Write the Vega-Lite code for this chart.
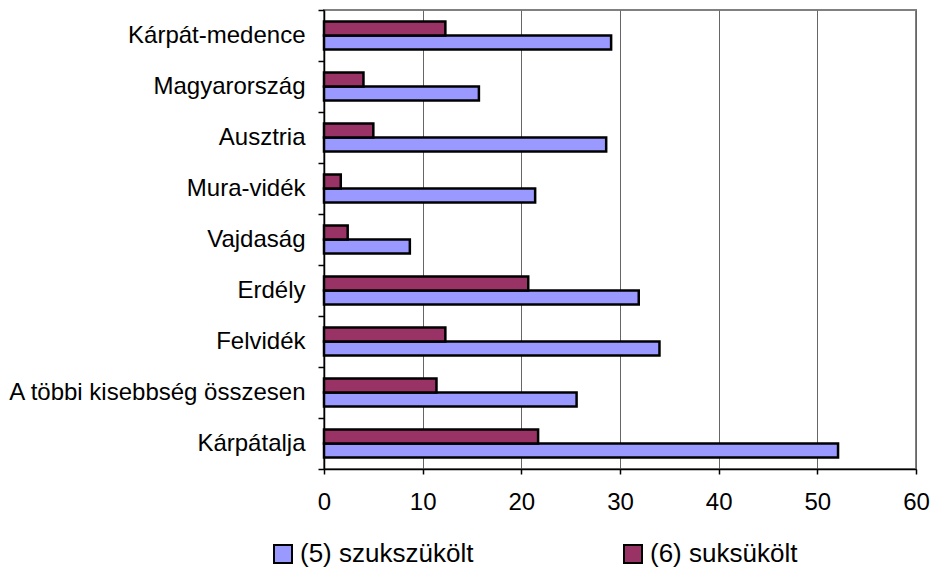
{
  "$schema": "https://vega.github.io/schema/vega-lite/v6.json",
  "width": 592,
  "height": 459,
  "autosize": {"type": "none"},
  "padding": {"left": 324, "top": 10, "right": 18, "bottom": 100},
  "background": "white",
  "config": {
    "font": "Liberation Sans",
    "view": {"stroke": "#808080", "strokeWidth": 2},
    "axis": {"labelFont": "Liberation Sans", "labelFontSize": 24, "labelColor": "#000", "domainColor": "#000", "tickColor": "#000", "domainWidth": 1.5, "tickWidth": 1.5}
  },
  "data": {
    "values": [
      {"region": "Kárpát-medence", "series": "(5) szukszükölt", "value": 29.1},
      {"region": "Kárpát-medence", "series": "(6) suksükölt", "value": 12.3},
      {"region": "Magyarország", "series": "(5) szukszükölt", "value": 15.7},
      {"region": "Magyarország", "series": "(6) suksükölt", "value": 4.0},
      {"region": "Ausztria", "series": "(5) szukszükölt", "value": 28.6},
      {"region": "Ausztria", "series": "(6) suksükölt", "value": 5.0},
      {"region": "Mura-vidék", "series": "(5) szukszükölt", "value": 21.4},
      {"region": "Mura-vidék", "series": "(6) suksükölt", "value": 1.7},
      {"region": "Vajdaság", "series": "(5) szukszükölt", "value": 8.7},
      {"region": "Vajdaság", "series": "(6) suksükölt", "value": 2.4},
      {"region": "Erdély", "series": "(5) szukszükölt", "value": 31.9},
      {"region": "Erdély", "series": "(6) suksükölt", "value": 20.7},
      {"region": "Felvidék", "series": "(5) szukszükölt", "value": 34.0},
      {"region": "Felvidék", "series": "(6) suksükölt", "value": 12.3},
      {"region": "A többi kisebbség összesen", "series": "(5) szukszükölt", "value": 25.6},
      {"region": "A többi kisebbség összesen", "series": "(6) suksükölt", "value": 11.4},
      {"region": "Kárpátalja", "series": "(5) szukszükölt", "value": 52.1},
      {"region": "Kárpátalja", "series": "(6) suksükölt", "value": 21.7}
    ]
  },
  "mark": {"type": "bar", "stroke": "#000", "strokeWidth": 2.5},
  "encoding": {
    "y": {
      "field": "region",
      "type": "nominal",
      "sort": null,
      "scale": {"paddingInner": 0, "paddingOuter": 0},
      "axis": {"title": null, "tickBand": "extent", "tickSize": 6, "labelPadding": 13, "grid": false, "labelLimit": 400}
    },
    "yOffset": {
      "field": "series",
      "type": "nominal",
      "sort": ["(6) suksükölt", "(5) szukszükölt"],
      "scale": {"paddingInner": 0, "paddingOuter": 0.82}
    },
    "x": {
      "field": "value",
      "type": "quantitative",
      "scale": {"domain": [0, 60], "nice": false},
      "axis": {"title": null, "values": [0, 10, 20, 30, 40, 50, 60], "tickSize": 5, "labelPadding": 16, "grid": true, "gridColor": "#666", "gridWidth": 1, "labelFlush": false}
    },
    "color": {
      "field": "series",
      "type": "nominal",
      "scale": {"domain": ["(5) szukszükölt", "(6) suksükölt"], "range": ["#9999FF", "#993366"]},
      "legend": {
        "title": null,
        "orient": "none",
        "direction": "horizontal",
        "legendX": -54,
        "legendY": 531,
        "symbolType": "square",
        "symbolSize": 324,
        "symbolStrokeColor": "#000",
        "symbolStrokeWidth": 2,
        "symbolOpacity": 1,
        "labelFontSize": 26,
        "labelFont": "Liberation Sans",
        "labelColor": "#000",
        "labelOffset": 4,
        "labelLimit": 400,
        "columnPadding": 146
      }
    }
  }
}
